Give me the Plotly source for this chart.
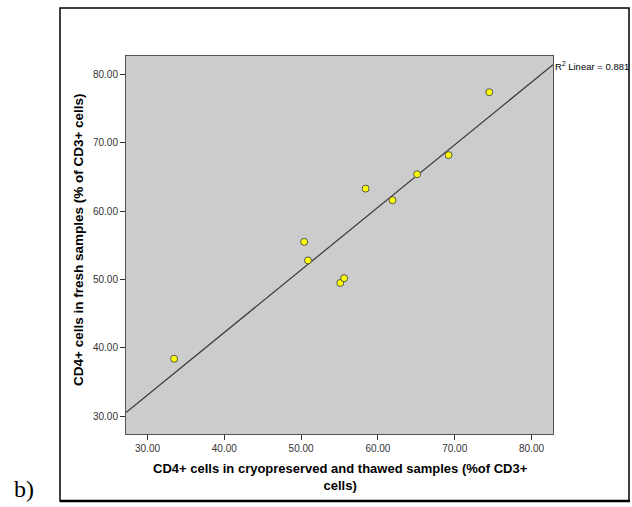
import numpy as np
import plotly.graph_objects as go

# Data
cryo_x = [33.46, 50.4, 50.9, 55.1, 55.6, 58.4, 61.9, 65.1, 69.2, 74.5]
fresh_y = [38.4, 55.5, 52.8, 49.5, 50.2, 63.3, 61.6, 65.4, 68.2, 77.4]
tick_vals = [30, 40, 50, 60, 70, 80]
tick_text = ["30.00", "40.00", "50.00", "60.00", "70.00", "80.00"]
r2_label = "R<sup>2</sup> Linear = 0.881"
x_title = "CD4+ cells in cryopreserved and thawed samples (%of CD3+<br>cells)"
y_title = "CD4+ cells in fresh samples (% of CD3+ cells)"

W, H = 632, 507
X_RANGE = [27.2, 82.8]
Y_RANGE = [27.4, 82.7]

def px(x):
    return x / W

def py(y):
    return 1 - y / H

slope, intercept = np.polyfit(cryo_x, fresh_y, 1)
line_x = np.array(X_RANGE)
line_y = slope * line_x + intercept

fig = go.Figure()
fig.add_trace(go.Scatter(x=line_x, y=line_y, mode="lines",
                         line=dict(color="#3a3a3a", width=1.2),
                         hoverinfo="skip", showlegend=False))
fig.add_trace(go.Scatter(x=cryo_x, y=fresh_y, mode="markers",
                         marker=dict(size=7, color="#FFFF00",
                                     line=dict(color="#555555", width=1)),
                         showlegend=False))

axis_font = dict(family="Liberation Sans, Arial", size=10, color="#333333")
title_font = dict(family="Liberation Sans, Arial", size=13.5, color="black")
fig.update_layout(
    width=W, height=H,
    margin=dict(l=0, r=0, t=0, b=0),
    paper_bgcolor="white",
    plot_bgcolor="#CCCCCC",
    xaxis=dict(domain=[px(126), px(553)], range=X_RANGE, tickvals=tick_vals,
               ticktext=tick_text, ticks="outside", ticklen=5, tickcolor="#333333",
               showgrid=False, zeroline=False, showline=True, linecolor="#555555",
               linewidth=1, mirror=True, tickfont=axis_font, anchor="y"),
    yaxis=dict(domain=[py(434), py(56)], range=Y_RANGE, tickvals=tick_vals,
               ticktext=tick_text, ticks="outside", ticklen=5, tickcolor="#333333",
               showgrid=False, zeroline=False, showline=True, linecolor="#555555",
               linewidth=1, mirror=True, tickfont=axis_font, anchor="x"),
    shapes=[
        dict(type="rect", xref="paper", yref="paper",
             x0=px(60), x1=px(629), y0=py(501), y1=py(8),
             line=dict(color="black", width=1.5)),
        dict(type="line", xref="paper", yref="paper",
             x0=px(60), x1=px(630), y0=py(501), y1=py(501),
             line=dict(color="black", width=2.5)),
    ],
    annotations=[
        dict(text="<b>" + y_title + "</b>", xref="paper", yref="paper",
             x=px(78), y=py(240), textangle=-90, showarrow=False,
             font=title_font, xanchor="center", yanchor="middle"),
        dict(text="<b>" + x_title + "</b>", xref="paper", yref="paper",
             x=px(340), y=py(477), showarrow=False,
             font=dict(family="Liberation Sans, Arial", size=13, color="black"),
             xanchor="center", yanchor="middle", align="center"),
        dict(text=r2_label, xref="paper", yref="paper", x=px(553), y=py(66),
             showarrow=False, xanchor="left", yanchor="middle",
             font=dict(family="Liberation Sans, Arial", size=9.5, color="black")),
        dict(text="b)", xref="paper", yref="paper", x=px(12), y=py(489),
             showarrow=False, xanchor="left", yanchor="middle",
             font=dict(family="Liberation Serif, Times New Roman", size=24, color="black")),
    ],
)

fig.write_html("out.html")
